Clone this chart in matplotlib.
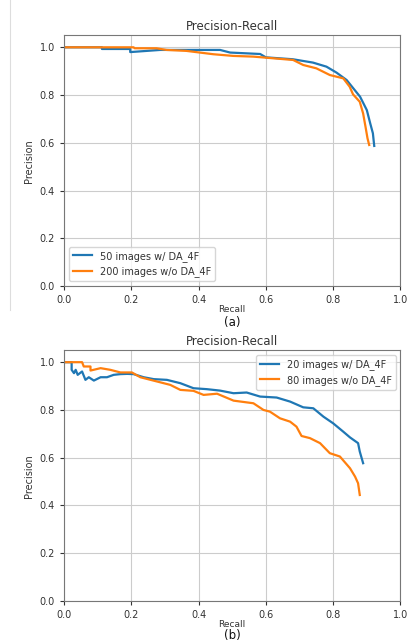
import matplotlib
matplotlib.use("Agg")
import matplotlib.pyplot as plt
from matplotlib.lines import Line2D

# Panel (a): recall / precision
A_BLUE_R = [0.0, 0.113, 0.113, 0.197, 0.197, 0.286, 0.404, 0.464, 0.494, 0.583, 0.60,
            0.68, 0.74, 0.78, 0.81, 0.84, 0.86, 0.88, 0.90, 0.91, 0.918, 0.922]
A_BLUE_P = [1.0, 1.0, 0.993, 0.993, 0.98, 0.989, 0.989, 0.989, 0.978, 0.972, 0.958,
            0.95, 0.936, 0.919, 0.894, 0.863, 0.828, 0.793, 0.737, 0.682, 0.640, 0.587]
A_ORANGE_R = [0.0, 0.207, 0.21, 0.275, 0.305, 0.364, 0.404, 0.444, 0.503, 0.563, 0.622,
              0.681, 0.711, 0.75, 0.79, 0.83, 0.849, 0.859, 0.879, 0.889, 0.896, 0.902, 0.907]
A_ORANGE_P = [1.0, 1.0, 0.996, 0.996, 0.989, 0.985, 0.978, 0.971, 0.964, 0.961, 0.954,
              0.947, 0.926, 0.912, 0.884, 0.870, 0.835, 0.803, 0.772, 0.723, 0.668, 0.619, 0.591]

# Panel (b)
B_BLUE_R = [0.0, 0.023, 0.023, 0.03, 0.035, 0.041, 0.054, 0.064, 0.074, 0.089, 0.109,
            0.128, 0.148, 0.168, 0.188, 0.207, 0.237, 0.267, 0.306, 0.346, 0.385, 0.425,
            0.464, 0.504, 0.543, 0.583, 0.632, 0.672, 0.711, 0.741, 0.771, 0.80, 0.83,
            0.85, 0.874, 0.879, 0.889]
B_BLUE_P = [1.0, 1.0, 0.968, 0.954, 0.968, 0.947, 0.961, 0.926, 0.937, 0.923, 0.937,
            0.937, 0.947, 0.95, 0.951, 0.95, 0.937, 0.929, 0.926, 0.912, 0.891, 0.887,
            0.881, 0.870, 0.873, 0.856, 0.852, 0.835, 0.811, 0.807, 0.772, 0.744, 0.709,
            0.685, 0.661, 0.626, 0.577]
B_ORANGE_R = [0.0, 0.054, 0.059, 0.079, 0.079, 0.109, 0.138, 0.168, 0.202, 0.227, 0.277,
              0.316, 0.346, 0.385, 0.415, 0.455, 0.504, 0.563, 0.593, 0.612, 0.642, 0.672,
              0.691, 0.706, 0.731, 0.761, 0.79, 0.82, 0.85, 0.865, 0.874, 0.879]
B_ORANGE_P = [1.0, 1.0, 0.982, 0.982, 0.965, 0.975, 0.968, 0.957, 0.957, 0.937, 0.919,
              0.905, 0.884, 0.880, 0.863, 0.868, 0.839, 0.828, 0.800, 0.793, 0.765, 0.751,
              0.730, 0.691, 0.682, 0.661, 0.619, 0.605, 0.556, 0.521, 0.493, 0.444]

PANELS = [
    ("(a)", A_BLUE_R, A_BLUE_P, A_ORANGE_R, A_ORANGE_P,
     ["50 images w/ DA_4F", "200 images w/o DA_4F"], "lower left"),
    ("(b)", B_BLUE_R, B_BLUE_P, B_ORANGE_R, B_ORANGE_P,
     ["20 images w/ DA_4F", "80 images w/o DA_4F"], "upper right"),
]

BLUE = "#1f77b4"
ORANGE = "#ff7f0e"
TEXT = "#333333"

fig = plt.figure(figsize=(4.07, 6.43), dpi=100)
fig.patch.set_facecolor("white")

# faint page border seen in the screenshot
fig.add_artist(Line2D([10 / 407, 10 / 407], [1.0, 1 - 310 / 643],
                      transform=fig.transFigure, color="#dddddd", lw=0.8))

positions = [[0.157, 0.555, 0.827, 0.39], [0.157, 0.0653, 0.827, 0.39]]
tag_y = [1 - 329 / 643, 1 / 643]  # bottom of the (a)/(b) captions, figure coords

for pos, ty, (tag, br, bp, orr, op, labels, loc) in zip(positions, tag_y, PANELS):
    ax = fig.add_axes(pos)
    ax.plot(br, bp, color=BLUE, lw=1.6, label=labels[0])
    ax.plot(orr, op, color=ORANGE, lw=1.6, label=labels[1])
    ax.set_xlim(0, 1)
    ax.set_ylim(0, 1.05)
    ax.set_xticks([0, 0.2, 0.4, 0.6, 0.8, 1.0])
    ax.set_yticks([0, 0.2, 0.4, 0.6, 0.8, 1.0])
    ax.grid(True, color="#cccccc", lw=0.8)
    ax.set_axisbelow(True)
    ax.tick_params(labelsize=7, colors=TEXT, length=3)
    for s in ax.spines.values():
        s.set_edgecolor("#777777")
    ax.set_title("Precision-Recall", fontsize=8.5, color=TEXT, pad=4)
    ax.set_xlabel("Recall", fontsize=6.5, color=TEXT, labelpad=0)
    ax.set_ylabel("Precision", fontsize=7, color=TEXT)
    leg = ax.legend(loc=loc, fontsize=7, handlelength=2.0, framealpha=0.8)
    for t in leg.get_texts():
        t.set_color(TEXT)
    fig.text(pos[0] + pos[2] / 2, ty, tag, ha="center", va="bottom",
             fontsize=8.5, color="#111111")

fig.savefig("out.png", dpi=100)
